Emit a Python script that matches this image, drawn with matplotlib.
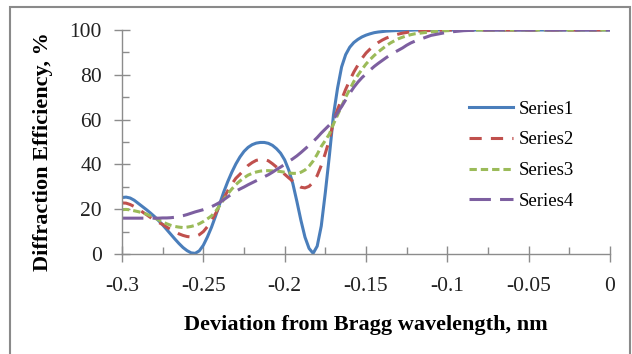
import numpy as np
import matplotlib
matplotlib.use("Agg")
import matplotlib.pyplot as plt
from matplotlib.ticker import MultipleLocator, FuncFormatter
from matplotlib.patches import Rectangle

plt.rcParams['font.family'] = ['Liberation Serif', 'DejaVu Serif']

# deviation from Bragg wavelength, nm
dev = [-0.3000, -0.2975, -0.2950, -0.2925, -0.2900, -0.2875, -0.2850, -0.2825,
       -0.2800, -0.2775, -0.2750, -0.2725, -0.2700, -0.2675, -0.2650, -0.2625,
       -0.2600, -0.2575, -0.2550, -0.2525, -0.2500, -0.2475, -0.2450, -0.2425,
       -0.2400, -0.2375, -0.2350, -0.2325, -0.2300, -0.2275, -0.2250, -0.2225,
       -0.2200, -0.2175, -0.2150, -0.2125, -0.2100, -0.2075, -0.2050, -0.2025,
       -0.2000, -0.1975, -0.1950, -0.1925, -0.1900, -0.1875, -0.1850, -0.1825,
       -0.1800, -0.1775, -0.1750, -0.1725, -0.1700, -0.1675, -0.1650, -0.1625,
       -0.1600, -0.1575, -0.1550, -0.1525, -0.1500, -0.1475, -0.1450, -0.1425,
       -0.1400, -0.1375, -0.1350, -0.1325, -0.1300, -0.1275, -0.1250, -0.1225,
       -0.1200, -0.11, -0.10, -0.09, -0.08, -0.07, -0.06, -0.05, -0.04, -0.03,
       -0.02, -0.01, 0.0]

series1 = [25.2, 25.4, 25.0, 24.0, 22.6, 21.2, 19.8, 18.3,
           16.7, 14.9, 13.0, 10.9, 8.8, 6.7, 4.7, 2.9,
           1.5, 0.5, 0.3, 1.4, 3.9, 7.6, 11.9, 16.9,
           22.3, 27.6, 32.3, 36.5, 40.2, 43.3, 45.8, 47.6,
           48.8, 49.5, 49.8, 49.8, 49.4, 48.5, 47.0, 45.0,
           42.0, 37.5, 31.5, 23.5, 15.0, 7.5, 2.5, 0.3,
           3.5, 12.5, 27.5, 44.0, 62.0, 74.0, 83.5, 89.0,
           92.3, 94.4, 95.8, 96.9, 97.7, 98.3, 98.8, 99.1,
           99.3, 99.5, 99.6, 99.7, 99.8, 99.85, 99.9, 99.9,
           100, 100, 100, 100, 100, 100, 100, 100, 100, 100,
           100, 100, 100]

series2 = [22.8, 22.7, 22.1, 21.2, 20.0, 18.8, 17.6, 16.3,
           15.1, 14.1, 13.2, 12.0, 10.9, 10.0, 9.0, 8.3,
           7.8, 7.6, 7.8, 8.6, 10.0, 12.2, 14.9, 18.0,
           21.3, 24.8, 28.2, 31.2, 33.8, 35.6, 37.5, 39.5,
           40.8, 41.8, 42.2, 42.2, 41.6, 40.3, 38.8, 37.2,
           35.6, 34.0, 32.5, 31.0, 29.8, 29.5, 30.2, 32.0,
           35.0, 39.5, 45.0, 51.0, 59.0, 64.5, 69.0, 73.5,
           77.5, 81.2, 84.3, 87.3, 89.7, 91.5, 93.1, 94.4,
           95.5, 96.4, 97.1, 97.7, 98.2, 98.6, 98.9, 99.2,
           99.4, 99.8, 100, 100, 100, 100, 100, 100, 100, 100,
           100, 100, 100]

series3 = [19.8, 19.9, 19.7, 19.3, 18.9, 18.4, 17.8, 17.0,
           16.1, 15.2, 14.3, 13.5, 12.8, 12.3, 12.0, 11.8,
           12.0, 12.3, 12.8, 13.5, 14.5, 15.7, 17.0, 19.0,
           21.5, 24.3, 26.8, 29.0, 31.0, 32.6, 34.0, 35.2,
           36.0, 36.6, 37.0, 37.2, 37.2, 37.1, 37.0, 36.8,
           36.5, 36.2, 36.0, 36.0, 36.5, 37.5, 39.2, 41.5,
           44.5, 48.0, 50.7, 53.6, 58.0, 62.0, 66.0, 70.0,
           73.5, 77.0, 79.8, 82.4, 84.8, 86.8, 88.6, 90.2,
           91.6, 93.0, 94.2, 95.2, 96.1, 96.8, 97.4, 97.9,
           98.3, 99.2, 99.7, 99.9, 100, 100, 100, 100, 100, 100,
           100, 100, 100]

series4 = [16.0, 16.0, 16.0, 16.0, 16.0, 16.0, 16.0, 16.0,
           16.0, 16.0, 16.1, 16.1, 16.2, 16.4, 16.7, 17.1,
           17.6, 18.2, 18.8, 19.3, 19.8, 20.4, 21.1, 22.0,
           23.0, 24.2, 25.5, 26.8, 28.0, 29.0, 29.9, 30.9,
           31.8, 32.7, 33.6, 34.5, 35.4, 36.5, 37.7, 38.8,
           40.0, 41.3, 42.5, 43.8, 45.3, 46.9, 48.5, 50.2,
           52.0, 54.0, 55.8, 57.6, 60.0, 63.0, 65.8, 68.8,
           71.7, 74.4, 76.7, 78.7, 80.4, 82.1, 83.7, 85.1,
           86.4, 87.7, 88.9, 90.0, 91.0, 92.0, 93.2, 94.2,
           95.0, 97.6, 99.0, 99.7, 100, 100, 100, 100, 100, 100,
           100, 100, 100]

names = ["Series1", "Series2", "Series3", "Series4"]
colors = ["#4a7ebb", "#c0504d", "#9bbb59", "#7d5fa0"]
dashes = [None, (4, 3), (2.4, 1.3), (7, 3)]

fig = plt.figure(figsize=(6.32, 3.54), dpi=100)
ax = fig.add_axes([122 / 632, 1 - 254 / 354, 488 / 632, 224 / 354])

for ys, name, c, d in zip([series1, series2, series3, series4], names, colors, dashes):
    if d is None:
        ax.plot(dev, ys, color=c, lw=2.2, label=name)
    else:
        ax.plot(dev, ys, color=c, lw=2.2, dashes=d, label=name)

ax.set_xlim(-0.3, 0)
ax.set_ylim(0, 100)
ax.xaxis.set_major_locator(MultipleLocator(0.05))
ax.xaxis.set_minor_locator(MultipleLocator(0.025))
ax.yaxis.set_major_locator(MultipleLocator(20))
ax.yaxis.set_minor_locator(MultipleLocator(10))
ax.xaxis.set_major_formatter(FuncFormatter(lambda v, p: "0" if abs(v) < 1e-9 else f"{v:g}"))

for s in ["top", "right"]:
    ax.spines[s].set_visible(False)
for s in ["left", "bottom"]:
    ax.spines[s].set_color("#8c8c8c")
    ax.spines[s].set_linewidth(1.0)

ax.tick_params(which="major", direction="inout", length=11, width=1, color="#8c8c8c",
               labelsize=15.5, labelcolor="#222222")
ax.tick_params(axis="x", which="major", pad=11)
ax.tick_params(axis="y", which="major", pad=9)
ax.tick_params(which="minor", direction="in", length=5, width=1, color="#8c8c8c")

ax.set_xlabel("Deviation from Bragg wavelength, nm", fontsize=16, fontweight="bold")
ax.set_ylabel("Diffraction Efficiency, %", fontsize=16, fontweight="bold")
ax.xaxis.set_label_coords(0.5, (254 - 315) / 224)
ax.yaxis.set_label_coords((53 - 122) / 488, (254 - 152) / 224)

ax.legend(loc="upper left", bbox_to_anchor=(460 / 632, 1 - 91 / 354),
          bbox_transform=fig.transFigure, frameon=False, fontsize=13.5,
          handlelength=2.35, handletextpad=0.27, labelspacing=0.73, borderpad=0)

# outer frame
fig.patches.append(Rectangle((10 / 632, -0.05), 620 / 632, 1 - 7 / 354 + 0.05,
                             transform=fig.transFigure, fill=False,
                             edgecolor="#8a8a8a", lw=1.5))

fig.savefig("out.png", dpi=100)
